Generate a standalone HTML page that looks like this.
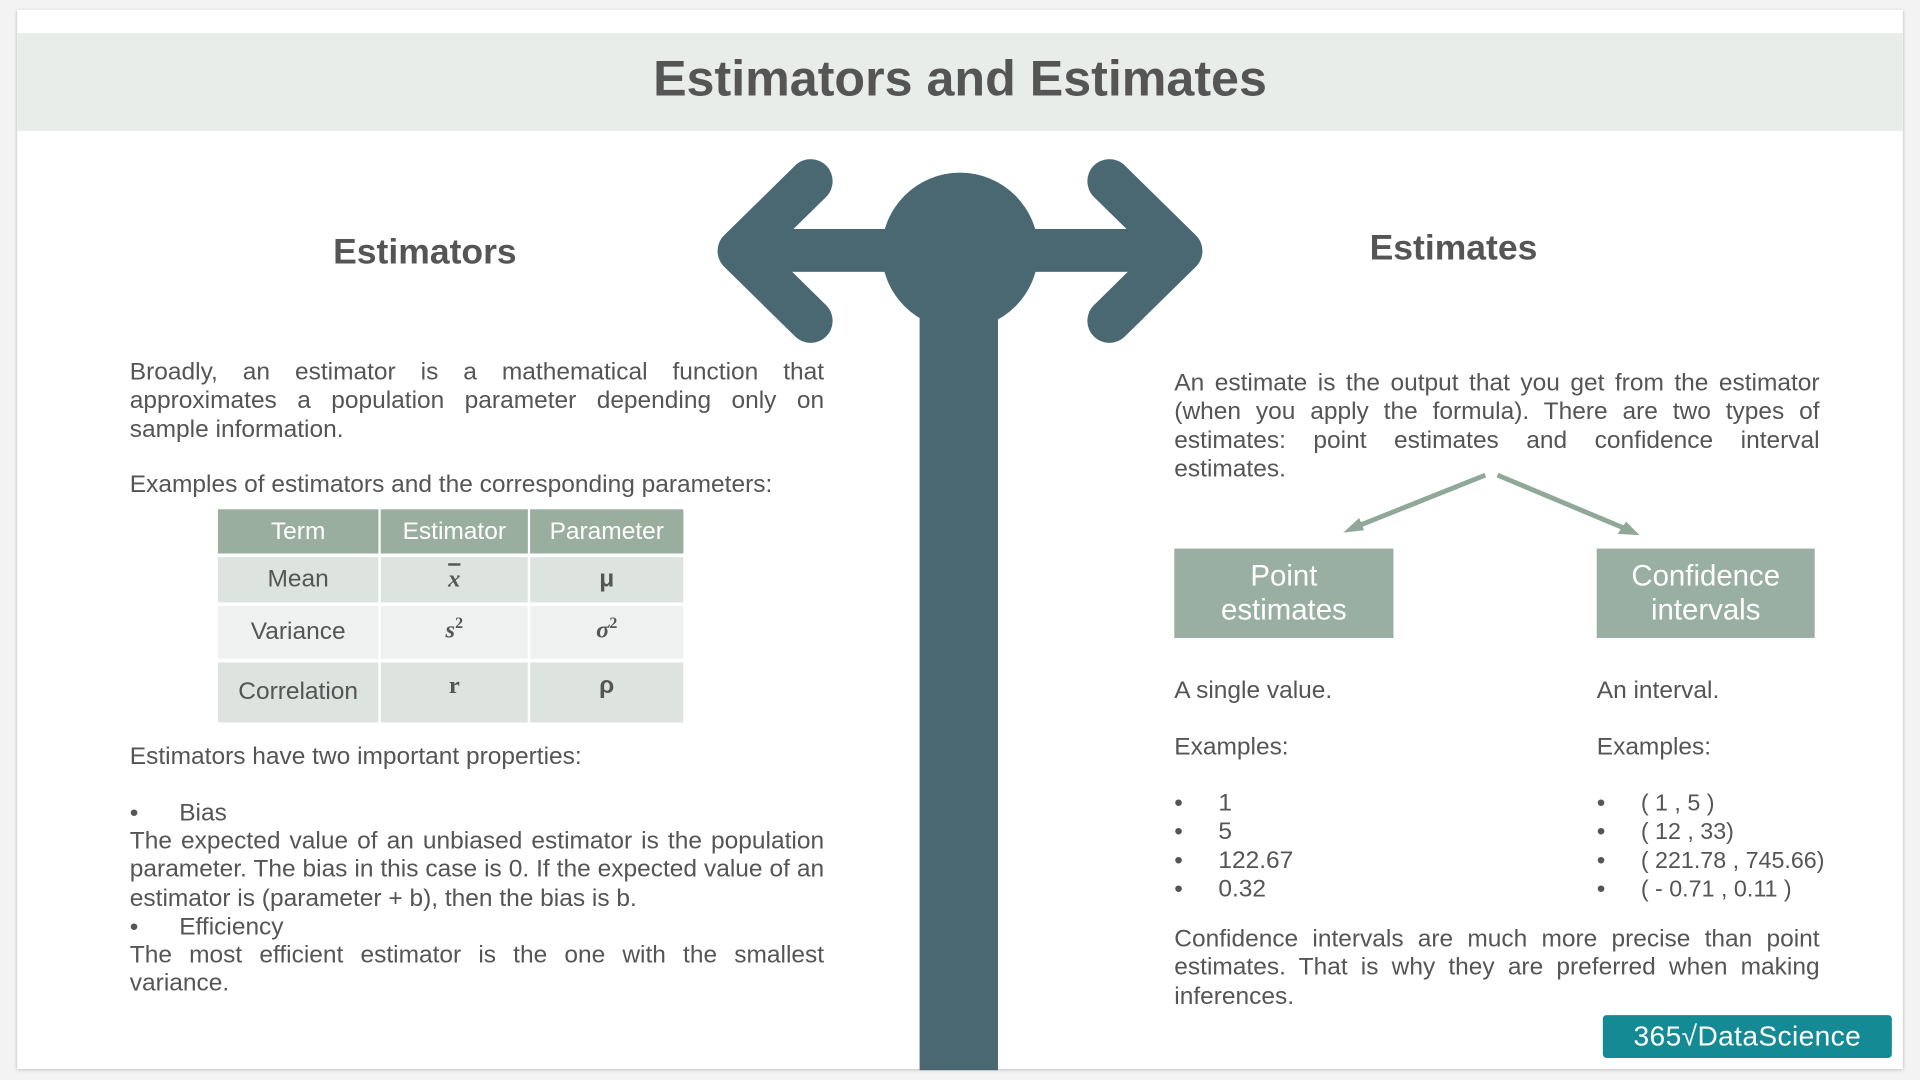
<!DOCTYPE html>
<html><head><meta charset="utf-8"><style>
html,body{margin:0;padding:0;width:1920px;height:1080px;overflow:hidden;background:#f3f3f3}
#s{position:absolute;left:0;top:0;width:1568px;height:882px;transform:scale(1.22449);transform-origin:0 0;font-family:"Liberation Sans",sans-serif;color:#555}
.slide{position:absolute;left:14px;top:8px;width:1540px;height:865px;background:#fff;box-shadow:0 1px 3px rgba(0,0,0,.25)}
.band{position:absolute;left:14px;top:27px;width:1540px;height:80px;background:#e9ede9}
.t{position:absolute;white-space:nowrap;font-size:20px}
.p{position:absolute;font-size:20px;line-height:23.3px}
.p div{text-align:justify;text-align-last:justify;white-space:nowrap}
.p div.l{text-align-last:left}
.tbl{position:absolute;left:178px;top:416px;border-collapse:separate;border-spacing:2px 3px;margin:-3px -2px}
.tbl td{text-align:center;font-size:20px;padding:0}
.box{position:absolute;background:#99afa1;color:#fff;font-size:24px;line-height:28px;text-align:center;display:flex;align-items:center;justify-content:center}
</style></head><body><div id="s">
<div class="slide"></div><div class="band"></div>
<div class="t" style="left:0;width:1568px;text-align:center;top:41px;font-size:41px;font-weight:bold;color:#555">Estimators and Estimates</div>
<svg style="position:absolute;left:0;top:0" width="1568" height="882">
<g fill="#4a6872" stroke="#4a6872">
<rect x="751" y="230" width="64" height="644" stroke="none"/>
<circle cx="784" cy="205" r="64" stroke="none"/>
<rect x="610" y="187" width="350" height="35" stroke="none"/>
<polyline points="662,148 604,205 662,262" fill="none" stroke-width="36" stroke-linecap="round" stroke-linejoin="round"/>
<polyline points="906,148 964,205 906,262" fill="none" stroke-width="36" stroke-linecap="round" stroke-linejoin="round"/>
</g>
<g stroke="#8fa89a" stroke-width="4" fill="#8fa89a">
<line x1="1213" y1="388" x2="1108" y2="430"/>
<line x1="1223" y1="388" x2="1328" y2="432"/>
<polygon points="1097,435 1110,423 1114,433" stroke="none"/>
<polygon points="1339,437 1321,436 1328,426" stroke="none"/>
</g>
</svg>
<div class="t" style="left:247px;width:200px;text-align:center;top:190px;font-size:29px;font-weight:bold">Estimators</div>
<div class="t" style="left:1087px;width:200px;text-align:center;top:187px;font-size:29px;font-weight:bold">Estimates</div>
<div class="p" style="left:106px;top:293px;width:567px"><div>Broadly, an estimator is a mathematical function that</div><div>approximates a population parameter depending only on</div><div class="l">sample information.</div></div>
<div class="t" style="left:106px;top:385px">Examples of estimators and the corresponding parameters:</div>
<table class="tbl">
<tr style="height:36px;background:#9aae9f;color:#fff"><td style="width:131px;background:#9aae9f">Term</td><td style="width:120px;background:#9aae9f">Estimator</td><td style="width:125px;background:#9aae9f">Parameter</td></tr>
<tr style="height:37px"><td style="background:#dde3df">Mean</td><td style="background:#dde3df;font-family:'Liberation Serif',serif;font-style:italic;font-weight:bold;text-decoration:overline">x</td><td style="background:#dde3df;font-weight:bold">μ</td></tr>
<tr style="height:43px"><td style="background:#eef1ef">Variance</td><td style="background:#eef1ef;font-family:'Liberation Serif',serif;font-style:italic;font-weight:bold;vertical-align:top;padding-top:6px">s<sup style="font-size:13px;font-style:normal">2</sup></td><td style="background:#eef1ef;font-family:'Liberation Serif',serif;font-style:italic;font-weight:bold;vertical-align:top;padding-top:6px">σ<sup style="font-size:13px;font-style:normal">2</sup></td></tr>
<tr style="height:49px"><td style="background:#dde3df">Correlation</td><td style="background:#dde3df;font-family:'Liberation Serif',serif;font-weight:bold;vertical-align:top;padding-top:8px">r</td><td style="background:#dde3df;font-weight:bold;vertical-align:top;padding-top:8px">ρ</td></tr>
</table>
<div class="t" style="left:106px;top:607px">Estimators have two important properties:</div>
<div class="t" style="left:106px;top:653px">•&nbsp;&nbsp;&nbsp;&nbsp;&nbsp;&nbsp;Bias</div>
<div class="p" style="left:106px;top:676px;width:567px"><div>The expected value of an unbiased estimator is the population</div><div>parameter. The bias in this case is 0. If the expected value of an</div><div class="l">estimator is (parameter + b), then the bias is b.</div></div>
<div class="t" style="left:106px;top:746px">•&nbsp;&nbsp;&nbsp;&nbsp;&nbsp;&nbsp;Efficiency</div>
<div class="p" style="left:106px;top:769px;width:567px"><div>The most efficient estimator is the one with the smallest</div><div class="l">variance.</div></div>
<div class="p" style="left:959px;top:302px;width:527px"><div>An estimate is the output that you get from the estimator</div><div>(when you apply the formula). There are two types of</div><div>estimates: point estimates and confidence interval</div><div class="l">estimates.</div></div>
<div class="box" style="left:959px;top:448px;width:179px;height:73px">Point<br>estimates</div>
<div class="box" style="left:1304px;top:448px;width:178px;height:73px">Confidence<br>intervals</div>
<div class="t" style="left:959px;top:553px">A single value.</div>
<div class="t" style="left:1304px;top:553px">An interval.</div>
<div class="t" style="left:959px;top:599px">Examples:</div>
<div class="t" style="left:1304px;top:599px">Examples:</div>
<div class="t" style="left:959px;top:645px;line-height:23.3px">•<br>•<br>•<br>•</div>
<div class="t" style="left:995px;top:645px;line-height:23.3px">1<br>5<br>122.67<br>0.32</div>
<div class="t" style="left:1304px;top:645px;line-height:23.3px">•<br>•<br>•<br>•</div>
<div class="t" style="left:1340px;top:645px;line-height:23.3px;font-size:19px">( 1 , 5 )<br>( 12 , 33)<br>( 221.78 , 745.66)<br>( - 0.71 , 0.11 )</div>
<div class="p" style="left:959px;top:756px;width:527px"><div>Confidence intervals are much more precise than point</div><div>estimates. That is why they are preferred when making</div><div class="l">inferences.</div></div>
<div style="position:absolute;left:1309px;top:829px;width:236px;height:35px;background:#138a94;border-radius:3px;color:#fff;font-size:23px;line-height:35px;text-align:center;white-space:nowrap;letter-spacing:0.3px">365√DataScience</div>
</div></body></html>
